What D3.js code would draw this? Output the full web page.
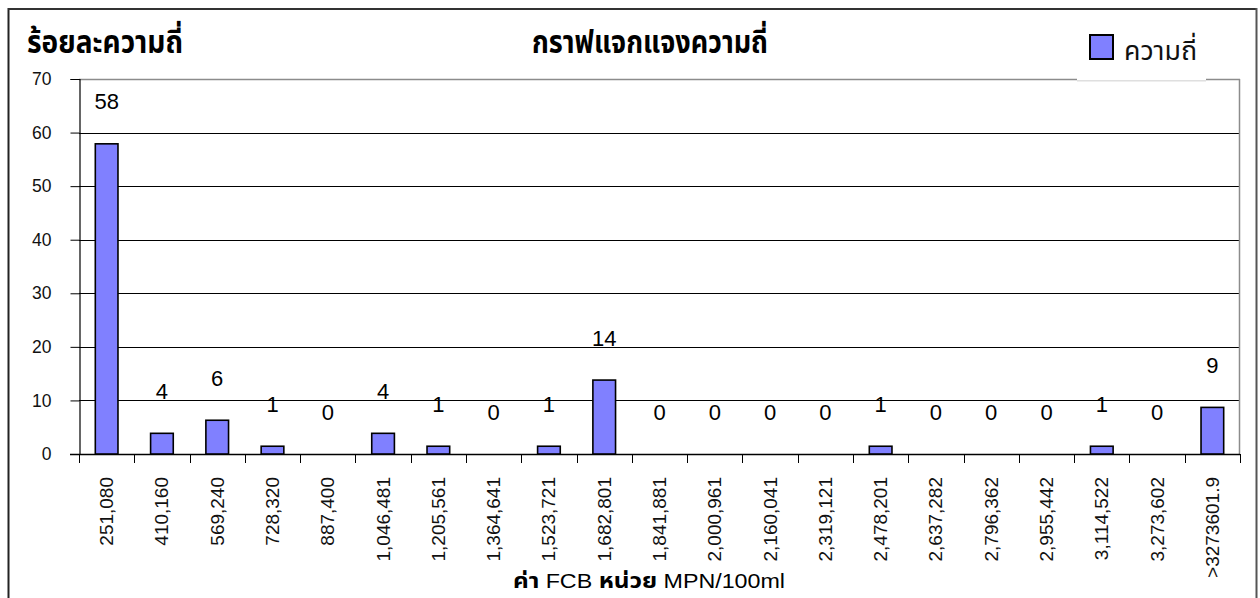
<!DOCTYPE html>
<html>
<head>
<meta charset="utf-8">
<script src="https://cdn.jsdelivr.net/npm/d3@7"></script>
<style>
  html, body { margin: 0; padding: 0; background: #fff; }
  svg { display: block; }
  .thai { font-family: Tahoma, "Noto Sans Thai", "Noto Sans Thai UI", Loma, Garuda, "Liberation Sans", sans-serif; }
  .latin { font-family: "Liberation Sans", Arial, sans-serif; }
</style>
</head>
<body>
<script>
// ---- data ----
const categories = ["251,080","410,160","569,240","728,320","887,400","1,046,481","1,205,561","1,364,641","1,523,721","1,682,801","1,841,881","2,000,961","2,160,041","2,319,121","2,478,201","2,637,282","2,796,362","2,955,442","3,114,522","3,273,602",">3273601.9"];
const values = [57.9, 3.86, 6.3, 1.45, 0, 3.86, 1.45, 0, 1.45, 13.8, 0, 0, 0, 0, 1.45, 0, 0, 0, 1.45, 0, 8.7];
const yTicks = [0, 10, 20, 30, 40, 50, 60, 70];
const seriesName = "ความถี่";
const chartTitle = "กราฟแจกแจงความถี่";
const yTitle = "ร้อยละความถี่";
const xTitleParts = [["ค่า ", "thai"], ["FCB ", "latin"], ["หน่วย ", "thai"], ["MPN/100ml", "latin"]];

// ---- layout ----
const W = 1260, H = 598;
const plot = { left: 79, right: 1240, top: 79, bottom: 454 };

const svg = d3.select("body").append("svg").attr("width", W).attr("height", H);

// outer frame
svg.append("line").attr("x1", 8.5).attr("x2", 8.5).attr("y1", 8).attr("y2", H).attr("stroke", "#222").attr("stroke-width", 2);
svg.append("line").attr("x1", 8).attr("x2", 1257).attr("y1", 9).attr("y2", 9).attr("stroke", "#333").attr("stroke-width", 2);
svg.append("line").attr("x1", 1256.5).attr("x2", 1256.5).attr("y1", 8).attr("y2", H).attr("stroke", "#555").attr("stroke-width", 2);

const x = d3.scaleBand().domain(categories).range([plot.left, plot.right]).padding(0);
const y = d3.scaleLinear().domain([0, 70]).range([plot.bottom, plot.top]);

// gridlines
svg.append("g").selectAll("line").data(yTicks.filter(t => t > 0 && t < 70)).join("line")
  .attr("x1", plot.left).attr("x2", plot.right)
  .attr("y1", d => Math.round(y(d)) + 0.5).attr("y2", d => Math.round(y(d)) + 0.5)
  .attr("stroke", "#000").attr("stroke-width", 1);

// plot border top/right (grey)
svg.append("line").attr("x1", plot.left).attr("x2", plot.right).attr("y1", plot.top + 0.5).attr("y2", plot.top + 0.5).attr("stroke", "#8c8c8c").attr("stroke-width", 1.5);
svg.append("line").attr("x1", plot.right - 0.5).attr("x2", plot.right - 0.5).attr("y1", plot.top).attr("y2", plot.bottom).attr("stroke", "#8c8c8c").attr("stroke-width", 1.5);

// y axis
const yAxis = d3.axisLeft(y).tickValues(yTicks).tickSize(9).tickPadding(19).tickFormat(d3.format("d"));
const gy = svg.append("g").attr("transform", `translate(${plot.left + 0.5},0)`).call(yAxis);
gy.attr("font-family", null).attr("font-size", null);
gy.select(".domain").attr("stroke", "#000").attr("stroke-width", 1.2);
gy.selectAll(".tick line").attr("stroke", "#000");
gy.selectAll(".tick text").attr("class", "latin").attr("font-size", 17.5).attr("fill", "#111");

// x axis (ticks at category boundaries)
const bounds = categories.map(c => x(c)).concat([plot.right]);
svg.append("line").attr("x1", plot.left - 9).attr("x2", plot.right).attr("y1", plot.bottom + 0.5).attr("y2", plot.bottom + 0.5).attr("stroke", "#000").attr("stroke-width", 1.3);
svg.append("g").selectAll("line").data(bounds).join("line")
  .attr("x1", d => Math.round(d) + 0.5).attr("x2", d => Math.round(d) + 0.5)
  .attr("y1", plot.bottom).attr("y2", plot.bottom + 9)
  .attr("stroke", "#000").attr("stroke-width", 1);

// x tick labels (rotated)
svg.append("g").selectAll("text").data(categories).join("text")
  .attr("class", "latin")
  .attr("font-size", 19)
  .attr("fill", "#111")
  .attr("text-anchor", "end")
  .attr("dominant-baseline", "central")
  .attr("transform", d => `translate(${x(d) + x.bandwidth() / 2},${plot.bottom + 23}) rotate(-90)`)
  .text(d => d);

// bars
const bw = x.bandwidth() * 0.41;
svg.append("g").selectAll("rect").data(values.map((v, i) => ({ c: categories[i], v })).filter(d => d.v > 0)).join("rect")
  .attr("x", d => x(d.c) + x.bandwidth() / 2 - bw / 2)
  .attr("y", d => y(d.v))
  .attr("width", bw)
  .attr("height", d => y(0) - y(d.v))
  .attr("fill", "#8080FF")
  .attr("stroke", "#000")
  .attr("stroke-width", 1.6);

// value labels
svg.append("g").selectAll("text").data(values.map((v, i) => ({ c: categories[i], v }))).join("text")
  .attr("class", "latin")
  .attr("font-size", 22)
  .attr("fill", "#000")
  .attr("text-anchor", "middle")
  .attr("dominant-baseline", "central")
  .attr("x", d => x(d.c) + x.bandwidth() / 2)
  .attr("y", d => y(d.v) - 42)
  .text(d => d3.format(".0f")(d.v));

// legend (white box covering plot border)
svg.append("rect").attr("x", 1077).attr("y", 16).attr("width", 129).attr("height", 64).attr("fill", "#fff");
svg.append("line").attr("x1", 1077).attr("x2", 1206).attr("y1", 81).attr("y2", 81).attr("stroke", "#ddd").attr("stroke-width", 1);
svg.append("rect").attr("x", 1090).attr("y", 35).attr("width", 23).attr("height", 24)
  .attr("fill", "#8080FF").attr("stroke", "#000").attr("stroke-width", 2);
svg.append("text").attr("class", "thai").attr("x", 1124).attr("y", 60)
  .attr("font-size", 27).attr("fill", "#111")
  .attr("textLength", 73).attr("lengthAdjust", "spacingAndGlyphs")
  .text(seriesName);

// titles
svg.append("text").attr("class", "thai").attr("x", 27).attr("y", 53)
  .attr("font-size", 31).attr("font-weight", "bold").attr("fill", "#000")
  .attr("textLength", 156).attr("lengthAdjust", "spacingAndGlyphs")
  .text(yTitle);
svg.append("text").attr("class", "thai").attr("x", 650).attr("y", 53)
  .attr("text-anchor", "middle")
  .attr("font-size", 31).attr("font-weight", "bold").attr("fill", "#000")
  .attr("textLength", 236).attr("lengthAdjust", "spacingAndGlyphs")
  .text(chartTitle);
const xt = svg.append("text").attr("x", 513).attr("y", 588)
  .attr("fill", "#000")
  .attr("textLength", 272).attr("lengthAdjust", "spacingAndGlyphs");
xt.selectAll("tspan").data(xTitleParts).join("tspan")
  .attr("class", d => d[1])
  .attr("font-size", d => d[1] === "thai" ? 22 : 21)
  .attr("font-weight", d => d[1] === "thai" ? "bold" : "normal")
  .text(d => d[0]);
</script>
</body>
</html>
